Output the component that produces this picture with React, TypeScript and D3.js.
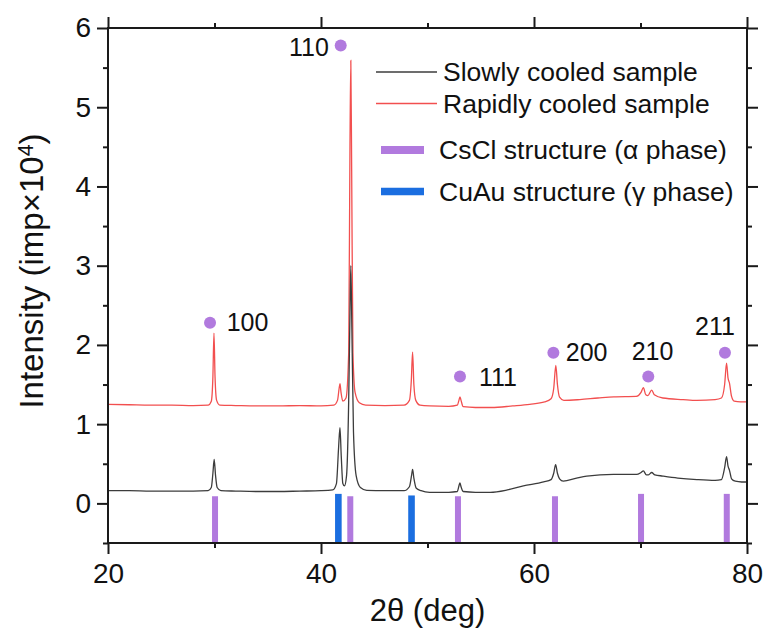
import { useEffect, useRef } from 'react';
import * as d3 from 'd3';

// 2θ (deg) vs intensity (imp × 10^4)
const rapidlyCooled: [number, number][] = [
  [20, 1.25], [22, 1.245], [24, 1.24], [26, 1.24], [28, 1.235], [29.4, 1.24],
  [29.7, 1.29], [29.85, 1.6], [29.95, 2.15], [30.05, 1.6], [30.2, 1.3], [30.5, 1.24],
  [32, 1.235], [34, 1.23], [36, 1.23], [38, 1.235], [40, 1.23], [41.2, 1.24],
  [41.55, 1.3], [41.7, 1.45], [41.78, 1.51], [41.88, 1.4], [42.05, 1.29], [42.35, 1.33],
  [42.6, 1.9], [42.72, 4.5], [42.8, 5.59], [42.88, 4.2], [43.0, 1.9], [43.2, 1.4],
  [43.6, 1.27], [44.2, 1.24], [46, 1.235], [47.8, 1.24], [48.3, 1.3], [48.48, 1.55],
  [48.6, 1.91], [48.72, 1.5], [48.9, 1.3], [49.3, 1.24], [50.2, 1.23], [52, 1.225],
  [52.8, 1.24], [52.95, 1.3], [53.05, 1.345], [53.15, 1.3], [53.35, 1.22], [54.5, 1.21],
  [56, 1.21], [58, 1.23], [59.6, 1.25], [61.0, 1.28], [61.6, 1.32], [61.85, 1.45],
  [62.05, 1.74], [62.2, 1.5], [62.4, 1.34], [62.8, 1.3], [64.3, 1.31], [66, 1.33],
  [67.5, 1.345], [69.6, 1.35], [70.05, 1.4], [70.27, 1.46], [70.5, 1.37], [70.7, 1.36],
  [71.05, 1.43], [71.3, 1.37], [72.1, 1.33], [74, 1.31], [75.3, 1.3], [77.0, 1.31],
  [77.6, 1.33], [77.9, 1.5], [78.08, 1.77], [78.22, 1.58], [78.35, 1.52], [78.55, 1.35],
  [78.8, 1.29], [79.4, 1.28], [80, 1.28],
];

const slowlyCooled: [number, number][] = [
  [20, 0.16], [22, 0.16], [24, 0.155], [26, 0.155], [28, 0.155], [29.4, 0.16],
  [29.7, 0.2], [29.85, 0.38], [29.97, 0.555], [30.1, 0.35], [30.25, 0.2], [30.6, 0.16],
  [32, 0.155], [34, 0.15], [36, 0.15], [38, 0.155], [40, 0.16], [41.1, 0.17],
  [41.45, 0.25], [41.65, 0.7], [41.78, 0.955], [41.9, 0.6], [42.05, 0.25], [42.2, 0.22],
  [42.4, 0.35], [42.6, 1.3], [42.72, 2.4], [42.8, 3.0], [42.9, 2.2], [43.05, 0.9],
  [43.3, 0.35], [43.7, 0.2], [44.3, 0.165], [46, 0.16], [47.8, 0.16], [48.3, 0.21],
  [48.5, 0.35], [48.6, 0.43], [48.72, 0.32], [48.95, 0.19], [49.4, 0.16], [50.2, 0.14],
  [52, 0.14], [52.8, 0.15], [52.95, 0.22], [53.05, 0.26], [53.15, 0.21], [53.35, 0.15],
  [54.5, 0.14], [55.9, 0.14], [57.5, 0.17], [59.0, 0.22], [60.9, 0.27], [61.6, 0.3],
  [61.85, 0.38], [62.03, 0.49], [62.2, 0.38], [62.4, 0.31], [62.75, 0.28], [64.0, 0.32],
  [64.95, 0.345], [67.45, 0.365], [69.64, 0.365], [70.05, 0.39], [70.27, 0.41], [70.55, 0.36],
  [70.75, 0.36], [71.05, 0.39], [71.35, 0.36], [72.1, 0.345], [73.5, 0.32], [75.3, 0.3],
  [77.0, 0.29], [77.6, 0.3], [77.9, 0.45], [78.08, 0.59], [78.22, 0.47], [78.35, 0.42],
  [78.55, 0.31], [78.9, 0.28], [79.5, 0.27], [80, 0.27],
];

// reference patterns (stick positions and the heights they reach)
const csclPos = [30.05, 42.75, 52.86, 61.97, 70.05, 78.1];
const csclTop = [0.09, 0.09, 0.09, 0.09, 0.12, 0.12];
const cuauPos = [41.63, 48.5];
const cuauTop = [0.12, 0.1];

// hkl marks of the α phase
const hkl = ['110', '100', '111', '200', '210', '211'];
const hklDotX = [41.85, 29.58, 53.05, 61.82, 70.73, 77.93];
const hklDotY = [5.78, 2.28, 1.6, 1.9, 1.6, 1.9];
const hklTextX = [38.87, 33.1, 56.62, 64.94, 71.13, 77.0];
const hklTextY = [5.76, 2.28, 1.59, 1.91, 1.92, 2.24];

const xTicks = [20, 40, 60, 80];
const xMinor = [30, 50, 70];
const yTicks = [0, 1, 2, 3, 4, 5, 6];
const yMinor = [-0.5, 0.5, 1.5, 2.5, 3.5, 4.5, 5.5];

const lineLabels = ['Slowly cooled sample', 'Rapidly cooled sample'];
const barLabels = ['CsCl structure (\u03b1 phase)', 'CuAu structure (\u03b3 phase)'];

const FONT = '"Liberation Sans", Arial, sans-serif';
const INK = '#1a1a1a';
const SLOW = '#3c3c3c';
const RAPID = '#f24f4f';
const CSCL = '#b17ade';
const CUAU = '#1b6ee0';

const width = 764,
  height = 630,
  marginTop = 28,
  marginRight = 17,
  marginBottom = 87,
  marginLeft = 108;

export default function App() {
  const axesRef = useRef<SVGGElement>(null);

  const x = d3.scaleLinear().domain([20, 80]).range([marginLeft, width - marginRight]);
  const y = d3.scaleLinear().domain([-0.5, 6]).range([height - marginBottom, marginTop]);

  const line = d3
    .line<[number, number]>()
    .x((d) => x(d[0]))
    .y((d) => y(d[1]))
    .curve(d3.curveMonotoneX);

  useEffect(() => {
    const g = d3.select(axesRef.current);
    g.selectAll('*').remove();

    const style = (sel: any) => {
      sel.select('.domain').remove();
      sel.selectAll('line').attr('stroke', INK).attr('stroke-width', 2);
      sel.selectAll('text').attr('fill', '#111').attr('font-size', 28).attr('font-family', FONT);
    };
    const none = () => '';
    const bottom = height - marginBottom;
    const right = width - marginRight;

    g.append('g').attr('transform', `translate(0,${bottom})`)
      .call(d3.axisBottom(x).tickValues(xTicks).tickSize(11).tickPadding(9).tickFormat(d3.format('d')))
      .call(style);
    g.append('g').attr('transform', `translate(0,${bottom})`)
      .call(d3.axisBottom(x).tickValues(xMinor).tickSize(5).tickFormat(none)).call(style);
    g.append('g').attr('transform', `translate(0,${marginTop})`)
      .call(d3.axisTop(x).tickValues(xTicks).tickSize(11).tickFormat(none)).call(style);
    g.append('g').attr('transform', `translate(0,${marginTop})`)
      .call(d3.axisTop(x).tickValues(xMinor).tickSize(5).tickFormat(none)).call(style);

    g.append('g').attr('transform', `translate(${marginLeft},0)`)
      .call(d3.axisLeft(y).tickValues(yTicks).tickSize(11).tickPadding(6).tickFormat(d3.format('d')))
      .call(style);
    g.append('g').attr('transform', `translate(${marginLeft},0)`)
      .call(d3.axisLeft(y).tickValues(yMinor).tickSize(5).tickFormat(none)).call(style);
    g.append('g').attr('transform', `translate(${right},0)`)
      .call(d3.axisRight(y).tickValues(yTicks).tickSize(11).tickFormat(none)).call(style);
    g.append('g').attr('transform', `translate(${right},0)`)
      .call(d3.axisRight(y).tickValues(yMinor).tickSize(5).tickFormat(none)).call(style);
  }, []);

  const barBottom = y(-0.5);

  return (
    <svg
      width={width}
      height={height}
      style={{ position: 'absolute', left: 0, top: 0, background: '#fff' }}
      fontFamily={FONT}
    >
      <path d={line(rapidlyCooled) ?? ''} fill="none" stroke={RAPID} strokeWidth={1.3} />
      <path d={line(slowlyCooled) ?? ''} fill="none" stroke={SLOW} strokeWidth={1.3} />

      {csclPos.map((p, i) => (
        <rect key={`a${i}`} x={x(p) - 3} y={y(csclTop[i])} width={6}
          height={barBottom - y(csclTop[i])} fill={CSCL} />
      ))}
      {cuauPos.map((p, i) => (
        <rect key={`g${i}`} x={x(p) - 3.3} y={y(cuauTop[i])} width={6.6}
          height={barBottom - y(cuauTop[i])} fill={CUAU} />
      ))}

      {hkl.map((h, i) => (
        <g key={h}>
          <circle cx={x(hklDotX[i])} cy={y(hklDotY[i])} r={6} fill={CSCL} />
          <text x={x(hklTextX[i])} y={y(hklTextY[i])} dy="0.35em" textAnchor="middle"
            fontSize={25} fill="#111">{h}</text>
        </g>
      ))}

      <rect x={marginLeft} y={marginTop} width={width - marginLeft - marginRight}
        height={height - marginTop - marginBottom} fill="none" stroke={INK} strokeWidth={2} />
      <g ref={axesRef} />

      <g transform="translate(376,0)" fontSize={26.5} fill="#111">
        {lineLabels.map((t, i) => (
          <g key={t} transform={`translate(0,${72 + i * 31.5})`}>
            <line x1={0} x2={61} stroke={i === 0 ? SLOW : RAPID} strokeWidth={1.3} />
            <text x={67} dy="0.35em">{t}</text>
          </g>
        ))}
        {barLabels.map((t, i) => (
          <g key={t} transform={`translate(0,${150 + i * 41.5})`}>
            <line x1={5} x2={48} stroke={i === 0 ? CSCL : CUAU} strokeWidth={i === 0 ? 8 : 7.5} />
            <text x={63} dy="0.35em">{t}</text>
          </g>
        ))}
      </g>

      <text x={(marginLeft + width - marginRight) / 2} y={621} textAnchor="middle" fontSize={31} fill="#111">
        2θ (deg)
      </text>
      <text transform="translate(43,271) rotate(-90)" textAnchor="middle" fontSize={33} fill="#111">
        Intensity (imp×10<tspan dy="-0.45em" fontSize="0.65em">4</tspan>
        <tspan dy="0.29em">)</tspan>
      </text>
    </svg>
  );
}
